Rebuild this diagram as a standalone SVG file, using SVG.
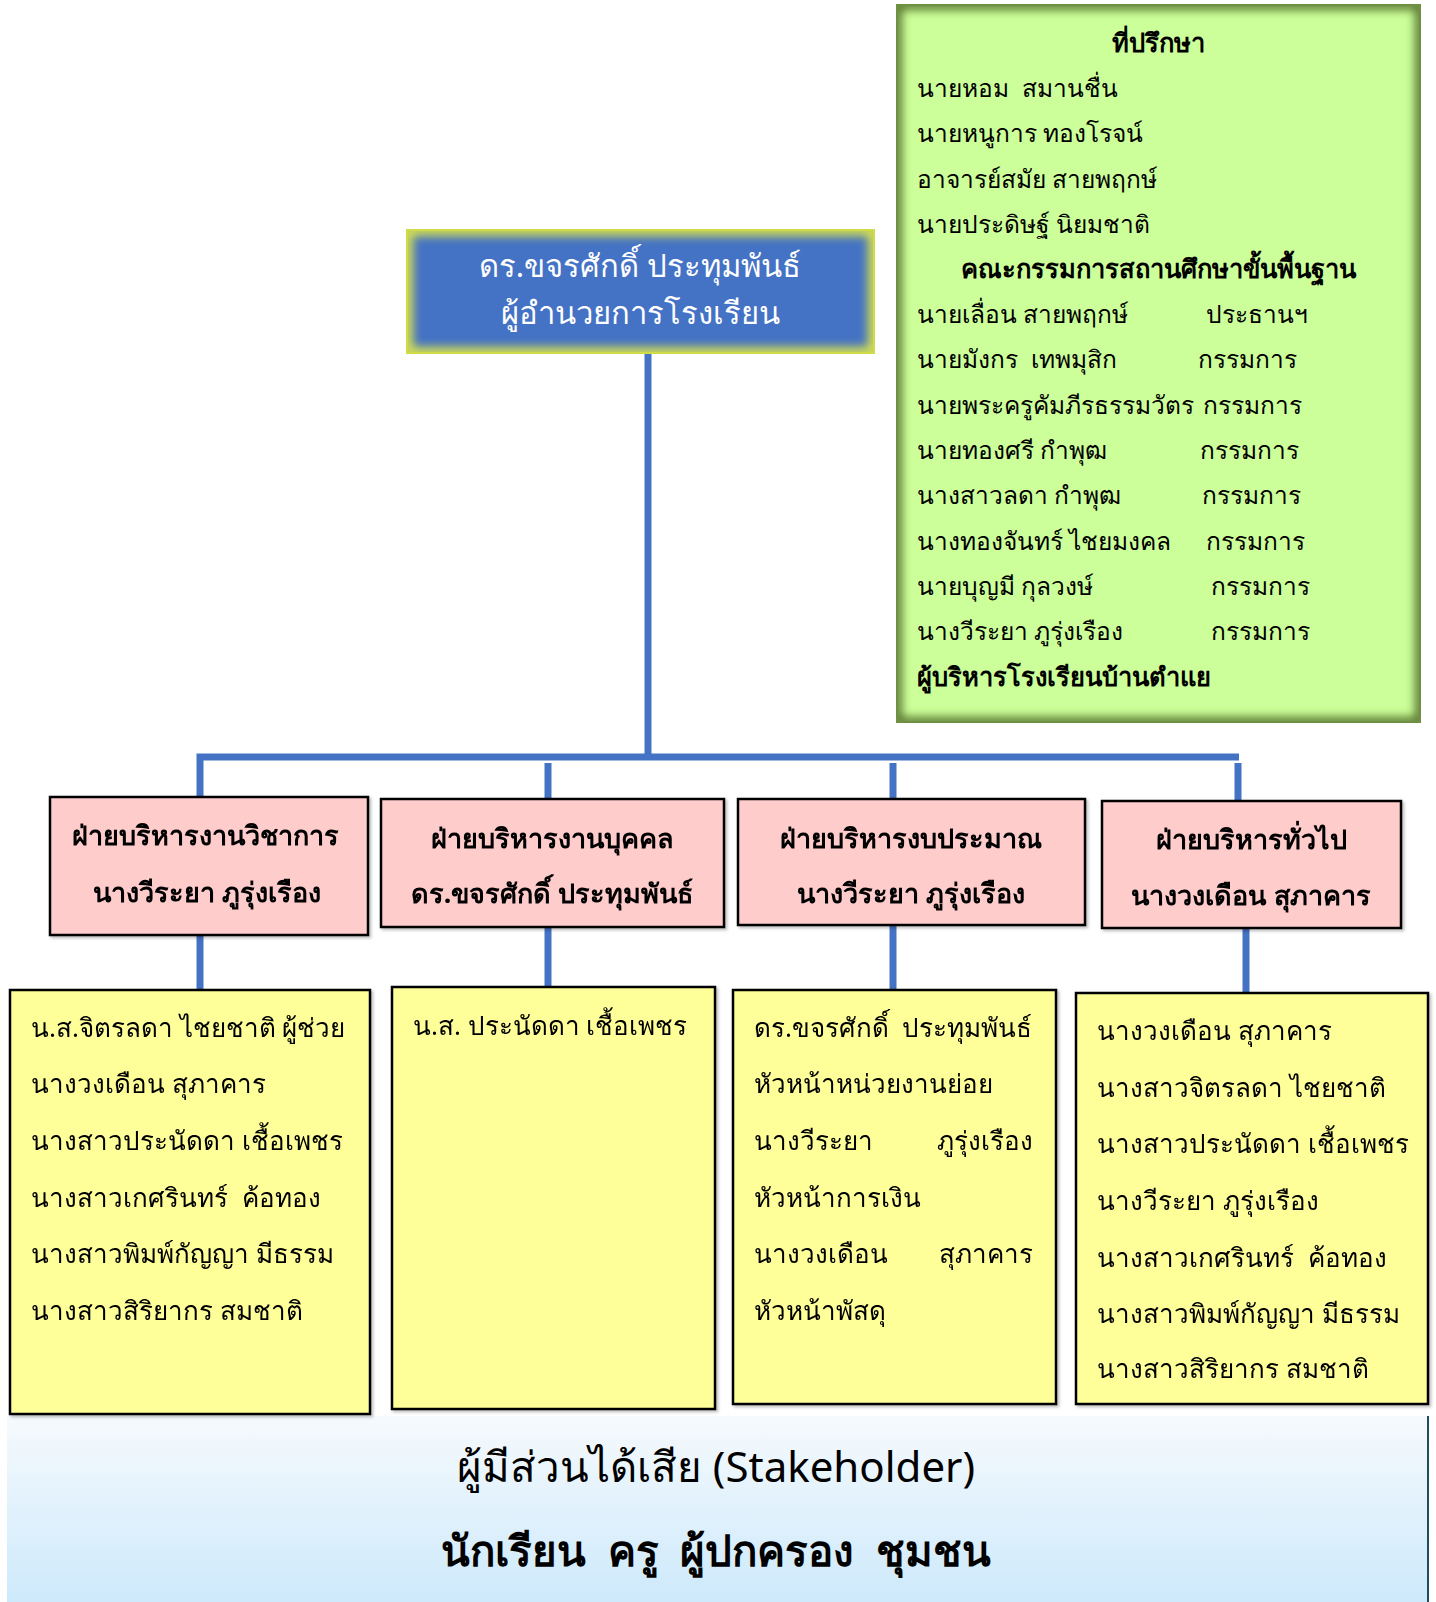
<svg xmlns="http://www.w3.org/2000/svg" width="1436" height="1602" viewBox="0 0 1436 1602">
<style>
text{font-family:"Noto Sans","DejaVu Sans",sans-serif;fill:#000;white-space:pre}
.g{font-size:24.5px}
.gb{font-size:25.5px;font-weight:bold}
.p{font-size:27px;font-weight:bold}
.y{font-size:26px}
.w{font-size:31px;fill:#fff}
.pink{fill:#ffcccc;stroke:#000;stroke-width:2.5}
.yel{fill:#ffff99;stroke:#000;stroke-width:2.5}
.con{stroke:#4472c4;stroke-width:7;fill:none}
</style>
<defs>
<linearGradient id="sky" x1="0" y1="0" x2="0" y2="1">
<stop offset="0" stop-color="#f6fafd"/>
<stop offset="1" stop-color="#cde9fb"/>
</linearGradient>
<filter id="blur6" x="-10%" y="-10%" width="120%" height="120%"><feGaussianBlur stdDeviation="5"/></filter>
<filter id="sh" x="-5%" y="-5%" width="110%" height="110%"><feDropShadow dx="2" dy="2" stdDeviation="1.5" flood-color="#000" flood-opacity="0.25"/></filter>
<clipPath id="cBlue"><rect x="407" y="230" width="467" height="123"/></clipPath>
<clipPath id="cGreen"><rect x="897" y="5" width="523" height="717"/></clipPath>
</defs>

<g id="stakeholder">
<rect x="7" y="1416" width="1421" height="186" fill="url(#sky)"/>
<line x1="1428" y1="1416" x2="1428" y2="1602" stroke="#1f4e5f" stroke-width="2"/>
<text x="716" y="1482" text-anchor="middle" style="font-size:42px">ผู้มีส่วนได้เสีย (Stakeholder)</text>
<text x="716" y="1566" text-anchor="middle" style="font-size:42px;font-weight:bold">นักเรียน  ครู  ผู้ปกครอง  ชุมชน</text>
</g>

<g id="connectors">
<line class="con" x1="648" y1="353" x2="648" y2="757"/>
<polyline class="con" points="200,797 200,757 1239,757"/>
<line class="con" x1="548" y1="763" x2="548" y2="799"/>
<line class="con" x1="893" y1="763" x2="893" y2="799"/>
<line class="con" x1="1238" y1="763" x2="1238" y2="801"/>
<line class="con" x1="200" y1="935" x2="200" y2="990"/>
<line class="con" x1="548" y1="927" x2="548" y2="987"/>
<line class="con" x1="893" y1="925" x2="893" y2="990"/>
<line class="con" x1="1246" y1="928" x2="1246" y2="993"/>
</g>

<g id="advisors">
<rect x="897" y="5" width="523" height="717" fill="#ccff99"/>
<rect x="897" y="5" width="523" height="717" fill="none" stroke="#58762f" stroke-width="10" filter="url(#blur6)" clip-path="url(#cGreen)"/>
<rect x="897" y="5" width="523" height="717" fill="none" stroke="#6f8f45" stroke-width="2"/>
<text class="gb" x="1158" y="52" text-anchor="middle">ที่ปรึกษา</text>
<text class="g" x="917" y="97">นายหอม  สมานชื่น</text>
<text class="g" x="917" y="142">นายหนูการ ทองโรจน์</text>
<text class="g" x="917" y="188">อาจารย์สมัย สายพฤกษ์</text>
<text class="g" x="917" y="233">นายประดิษฐ์ นิยมชาติ</text>
<text class="gb" x="1158" y="278" text-anchor="middle">คณะกรรมการสถานศึกษาขั้นพื้นฐาน</text>
<text class="g" x="917" y="323">นายเลื่อน สายพฤกษ์</text><text class="g" x="1206" y="323">ประธานฯ</text>
<text class="g" x="917" y="368">นายมังกร  เทพมุสิก</text><text class="g" x="1198" y="368">กรรมการ</text>
<text class="g" x="917" y="414">นายพระครูคัมภีรธรรมวัตร</text><text class="g" x="1203" y="414">กรรมการ</text>
<text class="g" x="917" y="459">นายทองศรี กำพุฒ</text><text class="g" x="1200" y="459">กรรมการ</text>
<text class="g" x="917" y="504">นางสาวลดา กำพุฒ</text><text class="g" x="1202" y="504">กรรมการ</text>
<text class="g" x="917" y="550">นางทองจันทร์ ไชยมงคล</text><text class="g" x="1206" y="550">กรรมการ</text>
<text class="g" x="917" y="595">นายบุญมี กุลวงษ์</text><text class="g" x="1211" y="595">กรรมการ</text>
<text class="g" x="917" y="640">นางวีระยา ภูรุ่งเรือง</text><text class="g" x="1211" y="640">กรรมการ</text>
<text class="gb" x="917" y="686">ผู้บริหารโรงเรียนบ้านตำแย</text>
</g>

<g id="director">
<rect x="407" y="230" width="467" height="123" fill="#4472c4"/>
<rect x="407" y="230" width="467" height="123" fill="none" stroke="#d6e04e" stroke-width="12" filter="url(#blur6)" clip-path="url(#cBlue)"/>
<rect x="407" y="230" width="467" height="123" fill="none" stroke="#cfdc48" stroke-width="2"/>
<text class="w" x="640" y="277" text-anchor="middle">ดร.ขจรศักดิ์ ประทุมพันธ์</text>
<text class="w" x="640" y="324" text-anchor="middle">ผู้อำนวยการโรงเรียน</text>
</g>

<g id="dept-academic" filter="url(#sh)">
<rect class="pink" x="50" y="797" width="318" height="138"/>
<text class="p" x="205" y="845" text-anchor="middle">ฝ่ายบริหารงานวิชาการ</text>
<text class="p" x="207" y="902" text-anchor="middle">นางวีระยา ภูรุ่งเรือง</text>
</g>
<g id="dept-personnel" filter="url(#sh)">
<rect class="pink" x="381" y="799" width="343" height="128"/>
<text class="p" x="552" y="848" text-anchor="middle">ฝ่ายบริหารงานบุคคล</text>
<text class="p" x="552" y="903" text-anchor="middle">ดร.ขจรศักดิ์ ประทุมพันธ์</text>
</g>
<g id="dept-budget" filter="url(#sh)">
<rect class="pink" x="738" y="799" width="347" height="126"/>
<text class="p" x="911" y="848" text-anchor="middle">ฝ่ายบริหารงบประมาณ</text>
<text class="p" x="911" y="903" text-anchor="middle">นางวีระยา ภูรุ่งเรือง</text>
</g>
<g id="dept-general" filter="url(#sh)">
<rect class="pink" x="1102" y="801" width="299" height="127"/>
<text class="p" x="1251" y="849" text-anchor="middle">ฝ่ายบริหารทั่วไป</text>
<text class="p" x="1251" y="905" text-anchor="middle">นางวงเดือน สุภาคาร</text>
</g>

<g id="staff-academic" filter="url(#sh)">
<rect class="yel" x="10" y="990" width="360" height="424"/>
<text class="y" x="31" y="1037">น.ส.จิตรลดา ไชยชาติ ผู้ช่วย</text>
<text class="y" x="31" y="1093">นางวงเดือน สุภาคาร</text>
<text class="y" x="31" y="1150">นางสาวประนัดดา เชื้อเพชร</text>
<text class="y" x="31" y="1207">นางสาวเกศรินทร์  ค้อทอง</text>
<text class="y" x="31" y="1263">นางสาวพิมพ์กัญญา มีธรรม</text>
<text class="y" x="31" y="1320">นางสาวสิริยากร สมชาติ</text>
</g>
<g id="staff-personnel" filter="url(#sh)">
<rect class="yel" x="392" y="987" width="323" height="422"/>
<text class="y" x="413" y="1035">น.ส. ประนัดดา เชื้อเพชร</text>
</g>
<g id="staff-budget" filter="url(#sh)">
<rect class="yel" x="733" y="990" width="323" height="414"/>
<text class="y" x="754" y="1037">ดร.ขจรศักดิ์  ประทุมพันธ์</text>
<text class="y" x="754" y="1093">หัวหน้าหน่วยงานย่อย</text>
<text class="y" x="754" y="1150">นางวีระยา</text><text class="y" x="1033" y="1150" text-anchor="end">ภูรุ่งเรือง</text>
<text class="y" x="754" y="1207">หัวหน้าการเงิน</text>
<text class="y" x="754" y="1263">นางวงเดือน</text><text class="y" x="1033" y="1263" text-anchor="end">สุภาคาร</text>
<text class="y" x="754" y="1320">หัวหน้าพัสดุ</text>
</g>
<g id="staff-general" filter="url(#sh)">
<rect class="yel" x="1076" y="993" width="352" height="411"/>
<text class="y" x="1097" y="1040">นางวงเดือน สุภาคาร</text>
<text class="y" x="1097" y="1097">นางสาวจิตรลดา ไชยชาติ</text>
<text class="y" x="1097" y="1153">นางสาวประนัดดา เชื้อเพชร</text>
<text class="y" x="1097" y="1210">นางวีระยา ภูรุ่งเรือง</text>
<text class="y" x="1097" y="1267">นางสาวเกศรินทร์  ค้อทอง</text>
<text class="y" x="1097" y="1323">นางสาวพิมพ์กัญญา มีธรรม</text>
<text class="y" x="1097" y="1378">นางสาวสิริยากร สมชาติ</text>
</g>
</svg>
